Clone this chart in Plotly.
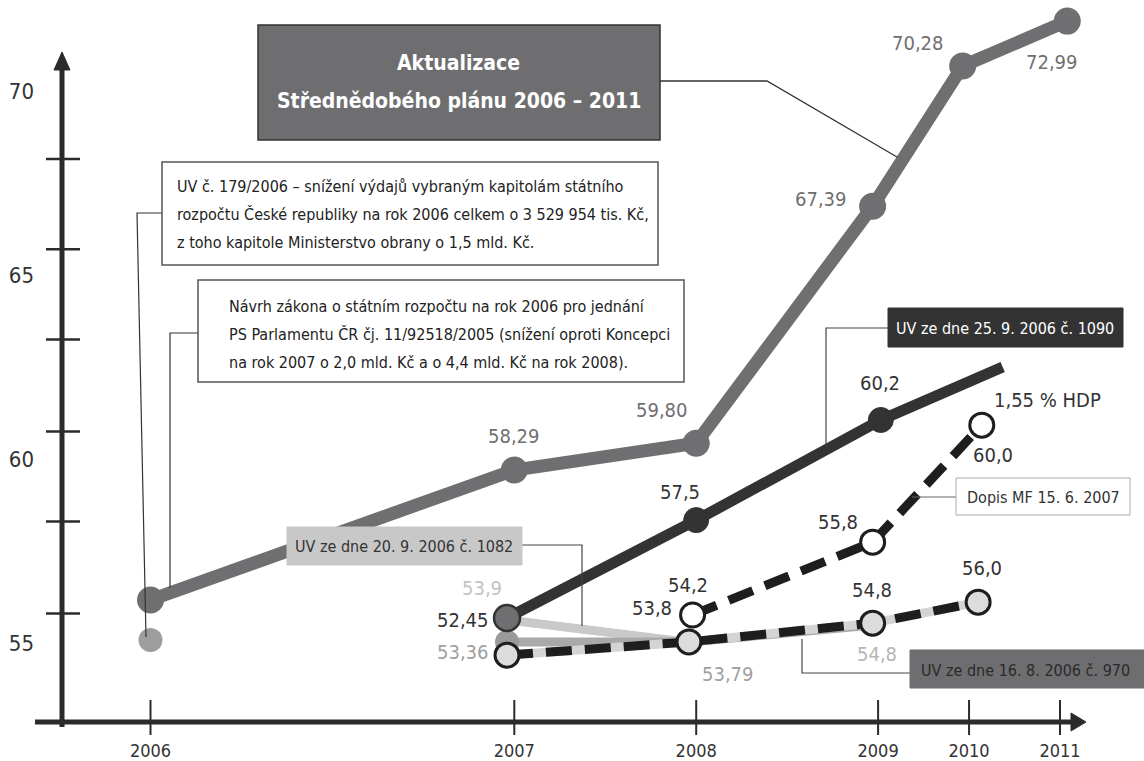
import numpy as np
import plotly.graph_objects as go

W, H = 1144, 761

# ---------------- data ----------------
# the drawn year axis is not linear: 2006-2007 spans twice a normal year, 2009-2011 half years
year_anchor = [2006, 2007, 2008, 2009, 2010, 2011, 2012]
pos_anchor = [0, 2, 3, 4, 4.5, 5, 5.5]
tick_years = [2006, 2007, 2008, 2009, 2010, 2011]
y_label_vals = [55, 60, 65, 70]
y_cross_ticks = [55.8, 58.3, 60.75, 63.25, 65.7, 68.15]

akt_x = [2006.0, 2007.0, 2008.0, 2008.97, 2009.93, 2011.08]
akt_y = [56.17, 59.70, 60.43, 66.87, 70.68, 71.90]
akt_lbl = ["", "58,29", "59,80", "67,39", "70,28", "72,99"]

uv1090_x = [2006.98, 2008.0, 2009.03, 2010.37]
uv1090_y = [55.68, 58.34, 61.06, 62.50]
uv1090_lbl = ["52,45", "57,5", "60,2", ""]

uv1082_x = [2006.98, 2007.94]
uv1082_y = [55.63, 55.03]
uv1082_lbl = ["53,9", ""]

uv970_x = [2006.98, 2007.97, 2008.97]
uv970_y = [55.03, 55.03, 55.49]
uv970_lbl = ["53,36", "53,79", "54,8"]

low_x = [2006.98, 2007.96, 2008.97, 2010.10]
low_y = [54.67, 55.03, 55.54, 56.11]
low_lbl = ["", "53,8", "54,8", "56,0"]

mf_x = [2007.98, 2008.97, 2010.14]
mf_y = [55.76, 57.74, 60.92]
mf_lbl = ["54,2", "55,8", "60,0"]
mf_note = "1,55 % HDP"

start2006_x = [2005.99]
start2006_y = [55.08]

title_lines = ["Aktualizace", "Střednědobého plánu 2006 – 2011"]
box1_lines = ["UV č. 179/2006 – snížení výdajů vybraným kapitolám státního",
              "rozpočtu České republiky na rok 2006 celkem o 3 529 954 tis. Kč,",
              "z toho kapitole Ministerstvo obrany o 1,5 mld. Kč."]
box2_lines = ["Návrh zákona o státním rozpočtu na rok 2006 pro jednání",
              "PS Parlamentu ČR čj. 11/92518/2005 (snížení oproti Koncepci",
              "na rok 2007 o 2,0 mld. Kč a o 4,4 mld. Kč na rok 2008)."]
lbl_1090 = "UV ze dne 25. 9. 2006 č. 1090"
lbl_1082 = "UV ze dne 20. 9. 2006 č. 1082"
lbl_970 = "UV ze dne 16. 8. 2006 č. 970"
lbl_mf = "Dopis MF 15. 6. 2007"

# ---------------- helpers ----------------
def pos(yrs):
    return list(np.interp(np.asarray(yrs, dtype=float), year_anchor, pos_anchor))

X0PX, XS = 150.5, 181.9       # pixel of position 0, pixels per position unit
Y60PX, YS = 459.0, 36.8       # pixel of value 60, pixels per value unit
xr = [(0 - X0PX) / XS, (W - X0PX) / XS]
yr = [60 - (H - Y60PX) / YS, 60 + Y60PX / YS]

def P(px):
    return px / W

def Q(py):
    return 1 - py / H

FONT = "DejaVu Sans Condensed, DejaVu Sans, sans-serif"

GRAY = "#6f6f71"
DARK = "#333333"
LIGHT = "#c9c9c9"
MID = "#a9a9a9"
BLACK = "#1e1e1e"

fig = go.Figure()

# main grey series
fig.add_trace(go.Scatter(x=pos(akt_x), y=akt_y, mode="lines+markers",
                         line=dict(color=GRAY, width=13),
                         marker=dict(size=27, color=GRAY)))
fig.add_trace(go.Scatter(x=pos(start2006_x), y=start2006_y, mode="markers",
                         marker=dict(size=24, color="#9d9d9d")))
# UV 1082 light line
fig.add_trace(go.Scatter(x=pos(uv1082_x), y=uv1082_y, mode="lines",
                         line=dict(color=LIGHT, width=9)))
# UV 970 mid-grey line
fig.add_trace(go.Scatter(x=pos(uv970_x), y=uv970_y, mode="lines",
                         line=dict(color=MID, width=9)))
fig.add_trace(go.Scatter(x=pos(uv970_x[:1]), y=uv970_y[:1], mode="markers",
                         marker=dict(size=24, color="#9a9a9a")))
# lower dashed series: light underlay + black dashes
fig.add_trace(go.Scatter(x=pos(low_x), y=low_y, mode="lines",
                         line=dict(color="#d4d4d4", width=9)))
fig.add_trace(go.Scatter(x=pos(low_x), y=low_y, mode="lines",
                         line=dict(color=BLACK, width=9, dash="26px,13px")))
# Dopis MF dashed series
fig.add_trace(go.Scatter(x=pos(mf_x), y=mf_y, mode="lines",
                         line=dict(color=BLACK, width=9, dash="26px,13px")))
# UV 1090 dark line
fig.add_trace(go.Scatter(x=pos(uv1090_x), y=uv1090_y, mode="lines",
                         line=dict(color=DARK, width=11)))
fig.add_trace(go.Scatter(x=pos(uv1090_x[:1]), y=uv1090_y[:1], mode="markers",
                         marker=dict(size=26, color=GRAY, line=dict(color=DARK, width=2.5))))
fig.add_trace(go.Scatter(x=pos(uv1090_x[1:3]), y=uv1090_y[1:3], mode="markers",
                         marker=dict(size=25, color=DARK, line=dict(color=DARK, width=1))))
fig.add_trace(go.Scatter(x=pos(low_x), y=low_y, mode="markers",
                         marker=dict(size=24, color="#dcdcdc",
                                     line=dict(color=BLACK, width=3))))
fig.add_trace(go.Scatter(x=pos(mf_x), y=mf_y, mode="markers",
                         marker=dict(size=24, color="white",
                                     line=dict(color=BLACK, width=3))))

# ---------------- value labels ----------------
ann = []

def add_labels(xs, ys, labels, offsets, color, size=20):
    for x, y, t, (dx, dy) in zip(pos(xs), ys, labels, offsets):
        if not t:
            continue
        ann.append(dict(x=x, y=y, xref="x", yref="y", text=t, showarrow=False,
                        xshift=dx, yshift=-dy, xanchor="center", yanchor="middle",
                        font=dict(family=FONT, size=size, color=color)))

add_labels(akt_x, akt_y, akt_lbl,
           [(0, 0), (0, -34), (-34, -33), (-52, -7), (-45, -23), (-15, 41)], GRAY)
add_labels(uv1090_x, uv1090_y, uv1090_lbl,
           [(-44, 2), (-16, -28), (-1, -37), (0, 0)], DARK)
add_labels(uv1082_x, uv1082_y, uv1082_lbl, [(-25, -32), (0, 0)], "#c2c2c2")
add_labels(uv970_x[:2], uv970_y[:2], uv970_lbl[:2], [(-44, 10), (37, 32)], "#a0a0a0")
add_labels(uv970_x[2:], uv970_y[2:], uv970_lbl[2:], [(4, 29)], "#b6b6b6")
add_labels(low_x, low_y, low_lbl, [(0, 0), (-37, -34), (-1, -33), (4, -34)], DARK)
add_labels(mf_x, mf_y, mf_lbl, [(-5, -30), (-35, -20), (11, 30)], DARK)
ann.append(dict(x=pos(mf_x[-1:])[0], y=mf_y[-1], xref="x", yref="y", text=mf_note,
                showarrow=False, xshift=10, yshift=25, xanchor="left", yanchor="middle",
                font=dict(family=FONT, size=20, color=DARK)))

# ---------------- decorations (axes arrows, ticks, boxes, leaders) ----------------
shapes = []

def seg(pts, color="#333333", width=1.3):
    path = "M " + " L ".join(f"{P(a):.5f},{Q(b):.5f}" for a, b in pts)
    shapes.append(dict(type="path", path=path, xref="paper", yref="paper",
                       line=dict(color=color, width=width), layer="above"))

def tri(pts, color="#2b2b2b"):
    path = "M " + " L ".join(f"{P(a):.5f},{Q(b):.5f}" for a, b in pts) + " Z"
    shapes.append(dict(type="path", path=path, xref="paper", yref="paper",
                       fillcolor=color, line=dict(color=color, width=1), layer="above"))

def rect(x0, y0, x1, y1, fill, border, bw=1.3):
    shapes.append(dict(type="rect", xref="paper", yref="paper",
                       x0=P(x0), x1=P(x1), y0=Q(y1), y1=Q(y0),
                       fillcolor=fill, line=dict(color=border, width=bw), layer="above"))

def text(x, y, t, size, color, anchor="left", bold=False):
    ann.append(dict(x=P(x), y=Q(y), xref="paper", yref="paper", text=t, showarrow=False,
                    xanchor=anchor, yanchor="middle",
                    font=dict(family=FONT, size=size, color=color,
                              weight="bold" if bold else "normal")))

AX = "#2b2b2b"
# axes
seg([(62, 727), (62, 66)], AX, 5)
tri([(62, 52), (54, 70), (70, 70)], AX)
seg([(35, 722), (1073, 722)], AX, 5)
tri([(1086, 722), (1071, 713), (1071, 731)], AX)
for v in y_cross_ticks:
    shapes.append(dict(type="line", xref="paper", yref="y", x0=P(46), x1=P(80),
                       y0=v, y1=v, line=dict(color=AX, width=2.5), layer="above"))
for xp in pos(tick_years):
    shapes.append(dict(type="line", xref="x", yref="paper", x0=xp, x1=xp,
                       y0=Q(700), y1=Q(735), line=dict(color=AX, width=2), layer="above"))

# title box
seg([(660, 81), (767, 81), (897, 157)], "#333333", 1.3)
rect(258, 25, 660, 140, "#6e6e70", "#333333", 1.5)
text(459, 63, title_lines[0], 21, "white", "center", bold=True)
text(459, 101, title_lines[1], 21, "white", "center", bold=True)

# box 1
seg([(162, 213), (137, 213), (146, 637)], "#333333", 1.2)
rect(162, 162, 658, 265, "white", "#555555", 1.5)
for t, yy in zip(box1_lines, [186, 214, 242]):
    text(175, yy, t, 16, "#222222")

# box 2
seg([(198, 333), (170, 333), (170, 588)], "#333333", 1.2)
rect(198, 280, 684, 382, "white", "#555555", 1.5)
for t, yy in zip(box2_lines, [306, 334, 362]):
    text(227, yy, t, 16, "#222222")

# UV 1090 box
seg([(888, 328), (826, 328), (826, 447)], "#444444", 1.2)
rect(888, 308, 1123, 347, "#333333", "#333333", 1)
text(1005, 328, lbl_1090, 16, "white", "center")

# UV 1082 box
seg([(522, 545), (582, 545), (582, 626)], "#444444", 1.2)
rect(287, 527, 522, 565, "#c8c8c8", "#c8c8c8", 1)
text(404, 546, lbl_1082, 16, "#333333", "center")

# Dopis MF box
seg([(956, 497), (912, 497)], "#666666", 1.2)
rect(956, 478, 1130, 515, "white", "#aaaaaa", 1)
text(1043, 497, lbl_mf, 16, "#333333", "center")

# UV 970 box
seg([(910, 673), (802, 673), (802, 639)], "#444444", 1.2)
rect(910, 650, 1150, 688, "#6e6e70", "#6e6e70", 1)
text(1025, 670, lbl_970, 16, "#2a2a2a", "center")

fig.update_layout(
    width=W, height=H, margin=dict(l=0, r=0, t=0, b=0),
    paper_bgcolor="white", plot_bgcolor="white", showlegend=False,
    shapes=shapes, annotations=ann,
    xaxis=dict(range=xr, showgrid=False, zeroline=False, showline=False,
               tickmode="array", tickvals=pos(tick_years), ticktext=[str(y) for y in tick_years],
               ticks="", anchor="free", position=Q(722), ticklabelstandoff=16,
               tickfont=dict(family=FONT, size=18, color="#333333"), fixedrange=True),
    yaxis=dict(range=yr, showgrid=False, zeroline=False, showline=False,
               tickmode="array", tickvals=y_label_vals, ticktext=[str(v) for v in y_label_vals],
               ticks="", anchor="free", position=P(62), ticklabelstandoff=28,
               tickfont=dict(family=FONT, size=22, color="#333333"), fixedrange=True),
)

fig.write_html("out.html")
